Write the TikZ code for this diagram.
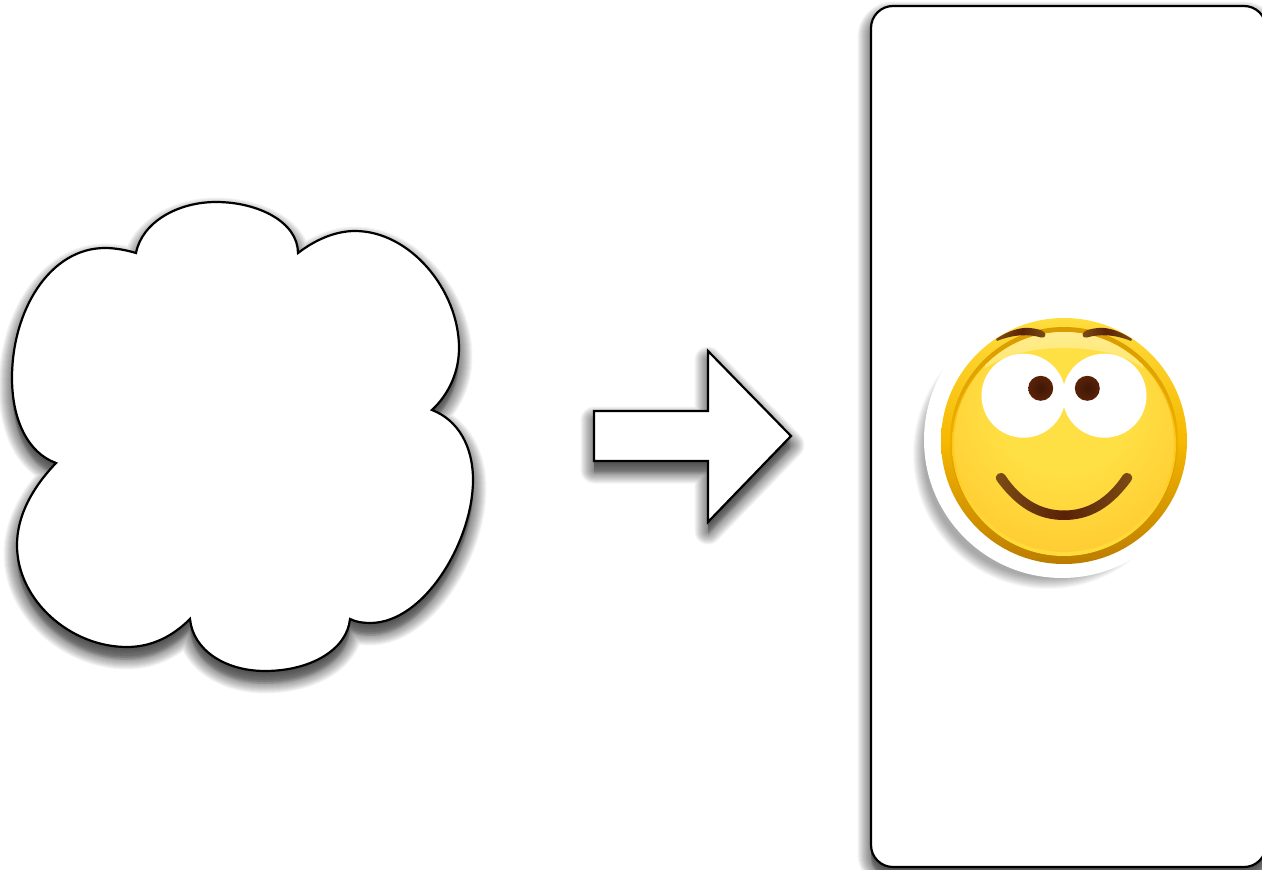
\documentclass[tikz,border=0pt]{standalone}
\usepackage{xcolor}
\definecolor{ringlight}{HTML}{FFDD3C}
\definecolor{ringgold}{HTML}{F6B800}
\definecolor{ringdark}{HTML}{BC7C00}
\definecolor{bandtop}{HTML}{D99C00}
\definecolor{bandmid}{HTML}{EDAE00}
\definecolor{yellowmid}{HTML}{FFC820}
\definecolor{facemid}{HTML}{FFE044}
\definecolor{faceedge}{HTML}{FFB41E}
\definecolor{glosstop}{HTML}{FFEE9C}
\definecolor{glossbottom}{HTML}{FFE76E}
\definecolor{browlight}{HTML}{7C4E14}
\definecolor{browdark}{HTML}{5A2208}
\pgfdeclareradialshading{facefill}{\pgfpoint{0bp}{10bp}}{
  color(0bp)=(facemid); color(15bp)=(facemid); color(54bp)=(faceedge); color(100bp)=(faceedge)}
\pgfdeclareradialshading{pupilfill}{\pgfpoint{0bp}{0bp}}{
  color(0bp)=(browdark!70!black); color(25bp)=(browdark); color(50bp)=(browdark!85!white); color(100bp)=(browdark!85!white)}
\newcommand{\cloudpath}{(136,253) .. controls (142,222) and (178,202) .. (216,202)
  .. controls (258,202) and (298,222) .. (298,253)
  .. controls (315,240) and (335,231) .. (355,231)
  .. controls (410,231) and (459,290) .. (459,348)
  .. controls (459,372) and (449,394) .. (432,410)
  .. controls (458,420) and (473,446) .. (473,480)
  .. controls (473,540) and (425,623) .. (370,623)
  .. controls (363,623) and (356,622) .. (350,619)
  .. controls (347,650) and (310,671) .. (265,671)
  .. controls (225,671) and (193,650) .. (190,619)
  .. controls (173,636) and (152,647) .. (127,647)
  .. controls (70,647) and (17,600) .. (17,545)
  .. controls (17,515) and (33,487) .. (56,463)
  .. controls (28,453) and (12,420) .. (12,378)
  .. controls (12,310) and (50,248) .. (105,248)
  .. controls (115,248) and (126,250) .. (136,253) -- cycle}
\newcommand{\arrowpath}{(594,411) -- (708,411) -- (708,351) -- (791,436) -- (708,522) -- (708,461) -- (594,461) -- cycle}
\newcommand{\panelpath}{(871,28) arc[start angle=180, end angle=270, radius=22] -- (1244,6) arc[start angle=270, end angle=360, radius=22]
  -- (1266,845) arc[start angle=0, end angle=90, radius=22] -- (893,867) arc[start angle=90, end angle=180, radius=22] -- cycle}
\newcommand{\softshadow}[1]{%
  \foreach \w in {1,3,...,27} {
    \begin{scope}[yshift=-9pt, transparency group, opacity=0.045]
      \filldraw[black, line width=\w pt, line join=round] #1;
    \end{scope}
  }
  \foreach \d in {1,3,...,13} {
    \fill[black, opacity=0.08, yshift=-\d pt] #1;
  }}
\begin{document}
\begin{tikzpicture}[
    x=1pt, y=-1pt,
    outline/.style={draw=black, line width=2.2pt, fill=white, line join=miter},
    eyewhite/.style={fill=white},
    pupil/.style={shading=pupilfill},
    featherline/.style={left color=browlight, right color=browlight, middle color=browdark},
  ]
  \useasboundingbox (0,0) rectangle (1262,870);
  \clip (0,0) rectangle (1262,870);

  % shadows
  \softshadow{\cloudpath}
  \softshadow{\arrowpath}
  \softshadow{\panelpath}

  % shapes
  \draw[outline] \cloudpath;
  \draw[outline] \arrowpath;
  \draw[outline] \panelpath;

  % halo behind the face
  \begin{scope}[xshift=-14pt, yshift=-14pt]
    \foreach \r in {124,125,...,135} {
      \fill[black, opacity=0.032] (1062,440) circle[radius=\r];
    }
  \end{scope}
  \fill[white] (1062,440) circle[radius=138];

  % face
  \shade[top color=ringlight, bottom color=ringdark, middle color=ringgold] (1064,441) circle[radius=123];
  \shade[top color=bandtop, bottom color=ringdark, middle color=bandmid] (1064,441) circle[radius=114];
  \shade[top color=bandmid, bottom color=ringlight, middle color=yellowmid] (1064,444) circle[radius=112];
  \shade[shading=facefill] (1064,442) circle[radius=110];
  \begin{scope}
    \clip (1064,442) circle[radius=110];
    \shade[top color=glosstop, bottom color=glossbottom] (985,368) .. controls (1010,352) and (1040,348) .. (1064,348)
      .. controls (1090,348) and (1120,352) .. (1143,368) -- (1143,320) -- (985,320) -- cycle;
  \end{scope}

  % eyes
  \fill[eyewhite] (1023.5,395.7) circle[radius=42];
  \fill[eyewhite] (1104.5,395.7) circle[radius=42];
  \shade[pupil] (1040.7,388.3) circle[radius=12.5];
  \shade[pupil] (1087.3,388.3) circle[radius=12.5];

  % brows
  \shade[featherline] (996,339) .. controls (1008,331) and (1020,327) .. (1030,328)
    .. controls (1036,328.5) and (1042,330) .. (1044,332)
    .. controls (1047,334.5) and (1045,338.5) .. (1041,337.5)
    .. controls (1030,334) and (1014,334) .. (997,341) -- cycle;
  \shade[featherline] (1132,339) .. controls (1120,331) and (1108,327) .. (1098,328)
    .. controls (1092,328.5) and (1086,330) .. (1084,332)
    .. controls (1081,334.5) and (1083,338.5) .. (1087,337.5)
    .. controls (1098,334) and (1114,334) .. (1131,341) -- cycle;

  % smile
  \shade[featherline] (997,481) .. controls (1017,508) and (1038,520) .. (1064,520)
    .. controls (1090,520) and (1111,508) .. (1131,481)
    .. controls (1135,475) and (1127.5,470) .. (1123,475)
    .. controls (1107,499) and (1087,510.5) .. (1064,510.5)
    .. controls (1041,510.5) and (1021,499) .. (1005,475)
    .. controls (1000.5,470) and (993,475) .. (997,481) -- cycle;
\end{tikzpicture}
\end{document}
